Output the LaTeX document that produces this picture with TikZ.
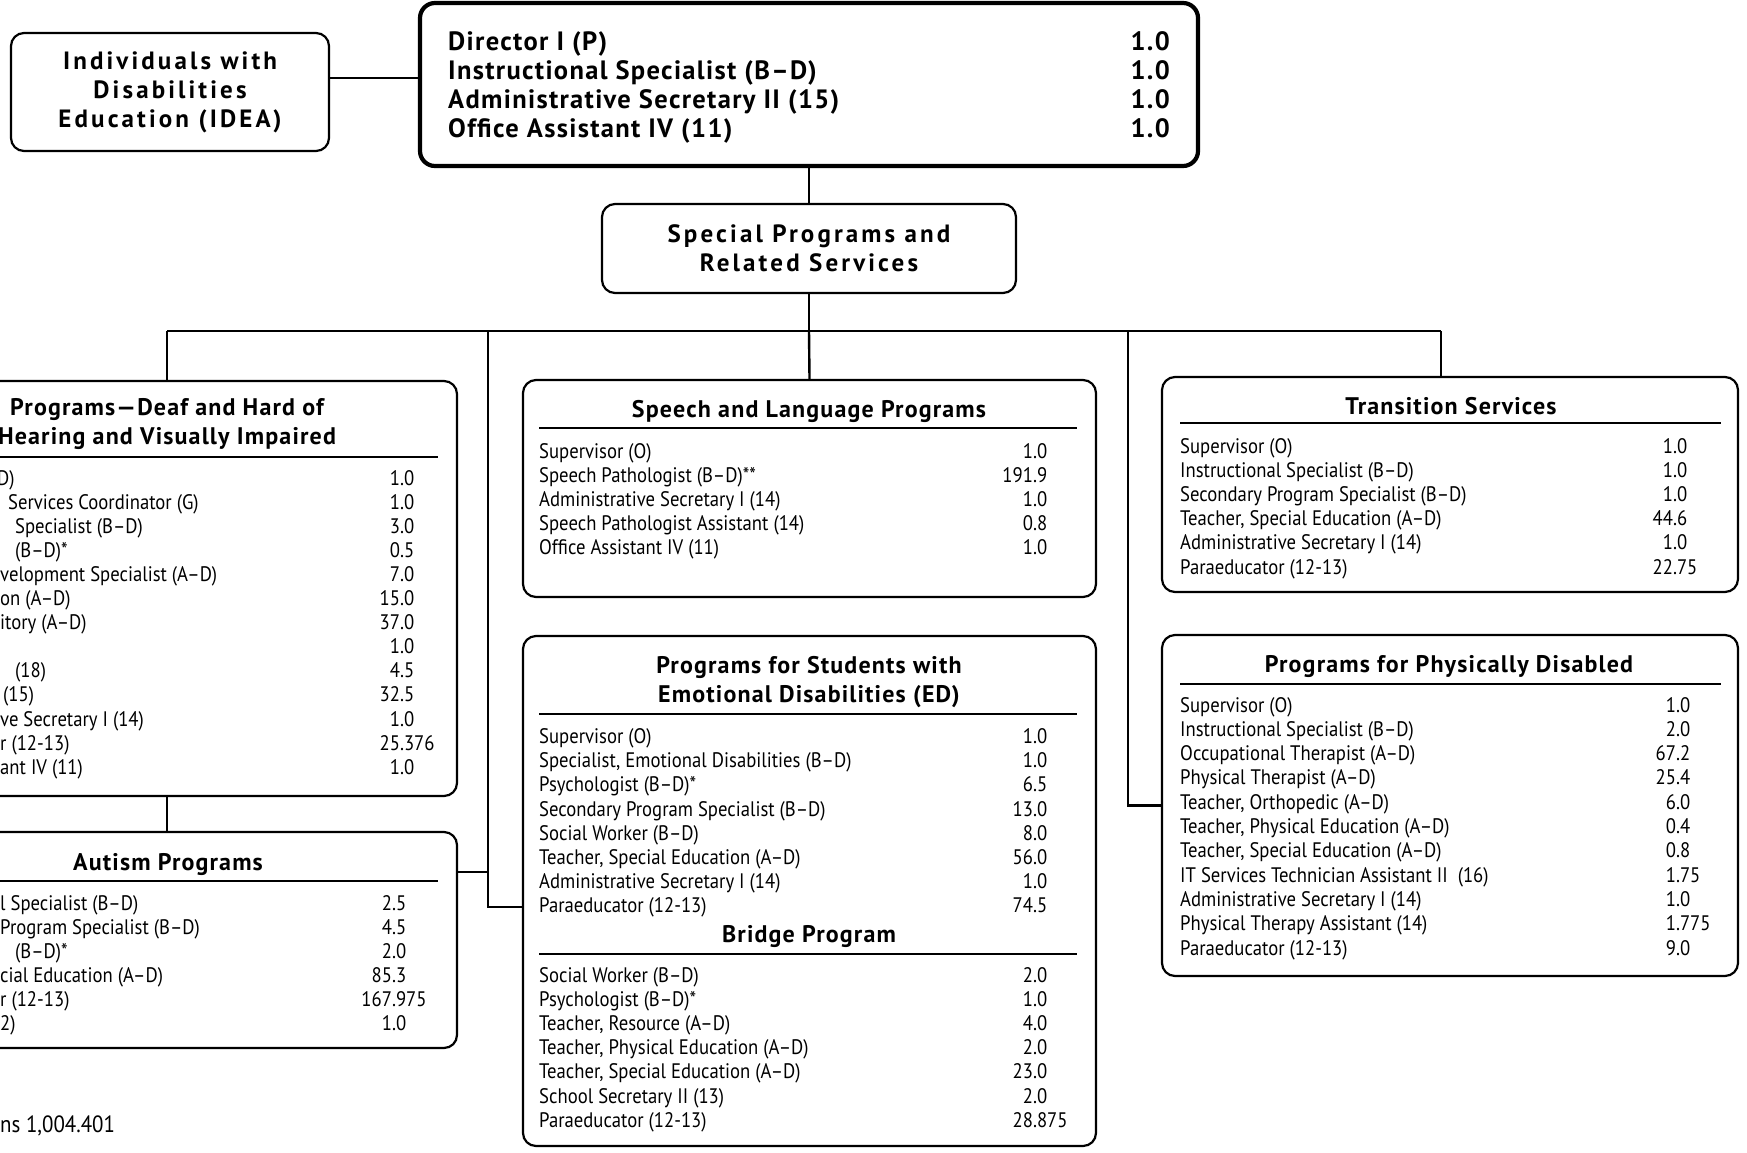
\documentclass[tikz,border=0pt]{standalone}
\usepackage{fontspec}
\setmainfont{PT Sans}
\newfontfamily\bodyfont[FakeStretch=0.89]{PT Sans}
\newfontfamily\headfont[LetterSpace=4.8]{PT Sans}
\newfontfamily\ideafont[LetterSpace=12.5]{PT Sans}
\newfontfamily\dirfont[LetterSpace=5]{PT Sans}
\usetikzlibrary{positioning}
\newcommand\fte[2]{\llap{#1}.\rlap{#2}}
\tikzset{
  panel/.style={draw=black,line width=2.2pt,rounded corners=13pt,inner sep=0pt,fill=white},
  headpanel/.style={panel,line width=4.2pt,rounded corners=15pt},
  boxtitle/.style={font=\headfont\fontsize{24}{29}\selectfont\bfseries,align=center,inner sep=0pt},
  toptitle/.style={boxtitle,font=\ideafont\fontsize{25}{29}\selectfont\bfseries},
  job/.style={font=\bodyfont\fontsize{21}{24}\selectfont,inner sep=0pt,anchor=west,
    text height=15pt,text depth=5pt},
  fte/.style={job,anchor=center},
  dirline/.style={font=\dirfont\fontsize{26.5}{29}\selectfont\bfseries,inner sep=0pt,
    anchor=west,text height=19pt,text depth=6pt},
  divider/.style={line width=1.6pt},
  link/.style={line width=2.4pt}
}

\begin{document}
\begin{tikzpicture}[x=1pt,y=-1pt]
  \useasboundingbox (0,0) rectangle (1747,1152);
  \clip (0,0) rectangle (1747,1152);

  % top: director office and IDEA
  \node[headpanel,minimum width=778pt,minimum height=163pt] (director) at (809,84.5) {};
  \foreach \job [count=\i] in {Director I (P), Instructional Specialist (B–D),
      Administrative Secretary II (15), Office Assistant IV (11)} {
    \node[dirline] (dir-job-\i) at (448,{15+29*\i}) {\job};
    \node[dirline,anchor=east] (dir-fte-\i) at (1170,{15+29*\i}) {1.0};
  }
  \node[panel,toptitle,minimum width=318pt,minimum height=118pt] (idea) at (170,92)
    {Individuals with\\Disabilities\\Education (IDEA)};
  \node[panel,toptitle,minimum width=414pt,minimum height=89pt] (sp) at (809,248.5)
    {Special Programs and\\Related Services};

  % bus
  \coordinate (bus-l) at (167,331);
  \coordinate (bus-ed) at (488,331);
  \coordinate (bus-c) at (809,331);
  \coordinate (bus-pd) at (1128,331);
  \coordinate (bus-r) at (1441,331);

  % deaf / hard of hearing / visually impaired
  \node[panel,minimum width=580pt,minimum height=415pt] (deaf) at (167,588.5) {};
  \node[boxtitle] (deaf-title) at (167,424) {Programs—Deaf and Hard of\\Hearing and Visually Impaired};
  \draw[divider] (-104,457) -- (438,457);
  \foreach \r/\dx/\job in {1/-3/D), 2/8/Services Coordinator (G), 3/15/Specialist (B–D),
      4/15/(B–D)*, 5/0/velopment Specialist (A–D), 6/0/on (A–D), 7/0/itory (A–D),
      9/15/(18), 10/3/(15), 11/0/ve Secretary I (14), 12/0/r (12-13), 13/0/ant IV (11)} {
    \node[job] (deaf-job-\r) at (\dx,{480+24.1*(\r-1)}) {\job};
  }
  \foreach \ip/\fp [count=\i] in {1/0, 1/0, 3/0, 0/5, 7/0, 15/0, 37/0, 1/0, 4/5, 32/5,
      1/0, 25/376, 1/0} {
    \node[fte] (deaf-fte-\i) at (402,{480+24.1*(\i-1)}) {\fte{\ip}{\fp}};
  }

  % autism
  \node[panel,minimum width=580pt,minimum height=216pt] (autism) at (167,940) {};
  \node[boxtitle] (autism-title) at (168,864) {Autism Programs};
  \draw[divider] (-104,881) -- (438,881);
  \foreach \dx/\job/\ip/\fp [count=\i] in {0/l Specialist (B–D)/2/5,
      0/Program Specialist (B–D)/4/5, 15/(B–D)*/2/0, 0/cial Education (A–D)/85/3,
      0/r (12-13)/167/975, 0/2)/1/0} {
    \node[job] (autism-job-\i) at (\dx,{905+24*(\i-1)}) {\job};
    \node[fte] (autism-fte-\i) at (394,{905+24*(\i-1)}) {\fte{\ip}{\fp}};
  }
  \node[job,font=\bodyfont\fontsize{23.5}{26}\selectfont] (total) at (0,1127) {ns 1,004.401};

  % speech and language
  \node[panel,minimum width=573pt,minimum height=217pt] (speech) at (809.5,488.5) {};
  \node[boxtitle] (speech-title) at (809,411) {Speech and Language Programs};
  \draw[divider] (539,428) -- (1077,428);
  \foreach \job/\ip/\fp [count=\i] in {Supervisor (O)/1/0, Speech Pathologist (B–D)**/191/9,
      Administrative Secretary I (14)/1/0, Speech Pathologist Assistant (14)/0/8,
      Office Assistant IV (11)/1/0} {
    \node[job] (speech-job-\i) at (539,{453+24*(\i-1)}) {\job};
    \node[fte] (speech-fte-\i) at (1035,{453+24*(\i-1)}) {\fte{\ip}{\fp}};
  }

  % emotional disabilities and bridge
  \node[panel,minimum width=573pt,minimum height=510pt] (ed) at (809.5,891) {};
  \node[boxtitle] (ed-title) at (809,682.5) {Programs for Students with\\Emotional Disabilities (ED)};
  \draw[divider] (539,714) -- (1077,714);
  \foreach \job/\ip/\fp [count=\i] in {Supervisor (O)/1/0,
      {Specialist, Emotional Disabilities (B–D)}/1/0, Psychologist (B–D)*/6/5,
      Secondary Program Specialist (B–D)/13/0, Social Worker (B–D)/8/0,
      {Teacher, Special Education (A–D)}/56/0, Administrative Secretary I (14)/1/0,
      Paraeducator (12-13)/74/5} {
    \node[job] (ed-job-\i) at (539,{738.5+24.2*(\i-1)}) {\job};
    \node[fte] (ed-fte-\i) at (1035,{738.5+24.2*(\i-1)}) {\fte{\ip}{\fp}};
  }
  \node[boxtitle] (bridge-title) at (809,936) {Bridge Program};
  \draw[divider] (539,954) -- (1077,954);
  \foreach \job/\ip/\fp [count=\i] in {Social Worker (B–D)/2/0, Psychologist (B–D)*/1/0,
      {Teacher, Resource (A–D)}/4/0, {Teacher, Physical Education (A–D)}/2/0,
      {Teacher, Special Education (A–D)}/23/0, School Secretary II (13)/2/0,
      Paraeducator (12-13)/28/875} {
    \node[job] (bridge-job-\i) at (539,{977+24.2*(\i-1)}) {\job};
    \node[fte] (bridge-fte-\i) at (1035,{977+24.2*(\i-1)}) {\fte{\ip}{\fp}};
  }

  % transition
  \node[panel,minimum width=576pt,minimum height=215pt] (trans) at (1450,484.5) {};
  \node[boxtitle] (trans-title) at (1451,406) {Transition Services};
  \draw[divider] (1180,423) -- (1721,423);
  \foreach \job/\ip/\fp [count=\i] in {Supervisor (O)/1/0, Instructional Specialist (B–D)/1/0,
      Secondary Program Specialist (B–D)/1/0, {Teacher, Special Education (A–D)}/44/6,
      Administrative Secretary I (14)/1/0, Paraeducator (12-13)/22/75} {
    \node[job] (trans-job-\i) at (1180,{448+24.2*(\i-1)}) {\job};
    \node[fte] (trans-fte-\i) at (1675,{448+24.2*(\i-1)}) {\fte{\ip}{\fp}};
  }

  % physically disabled
  \node[panel,minimum width=576pt,minimum height=341pt] (pd) at (1450,805.5) {};
  \node[boxtitle] (pd-title) at (1449,666) {Programs for Physically Disabled};
  \draw[divider] (1180,684) -- (1721,684);
  \foreach \job/\ip/\fp [count=\i] in {Supervisor (O)/1/0, Instructional Specialist (B–D)/2/0,
      Occupational Therapist (A–D)/67/2, Physical Therapist (A–D)/25/4,
      {Teacher, Orthopedic (A–D)}/6/0, {Teacher, Physical Education (A–D)}/0/4,
      {Teacher, Special Education (A–D)}/0/8, IT Services Technician Assistant II\ \ (16)/1/75,
      Administrative Secretary I (14)/1/0, Physical Therapy Assistant (14)/1/775,
      Paraeducator (12-13)/9/0} {
    \node[job] (pd-job-\i) at (1180,{707+24.3*(\i-1)}) {\job};
    \node[fte] (pd-fte-\i) at (1678,{707+24.3*(\i-1)}) {\fte{\ip}{\fp}};
  }

  % connectors
  \draw[link] ([yshift=14pt]idea.east) -- ([yshift=14pt]idea.east -| director.west);
  \draw[link] (director.south) -- (sp.north);
  \draw[link] (sp.south) -- (bus-c);
  \draw[link] (bus-l) -- (bus-r);
  \draw[link] (bus-l) -- (deaf.north);
  \draw[link] (deaf.south) -- (autism.north);
  \draw[link] (bus-c) -- (speech.north);
  \draw[link] (bus-ed) |- ([yshift=-16pt]ed.west);
  \draw[link] ([yshift=68pt]autism.east) -- ([yshift=68pt]autism.east -| bus-ed);
  \draw[link] (bus-pd) |- (pd.west);
  \draw[link] (bus-r) -- (trans.north -| bus-r);
\end{tikzpicture}
\end{document}
